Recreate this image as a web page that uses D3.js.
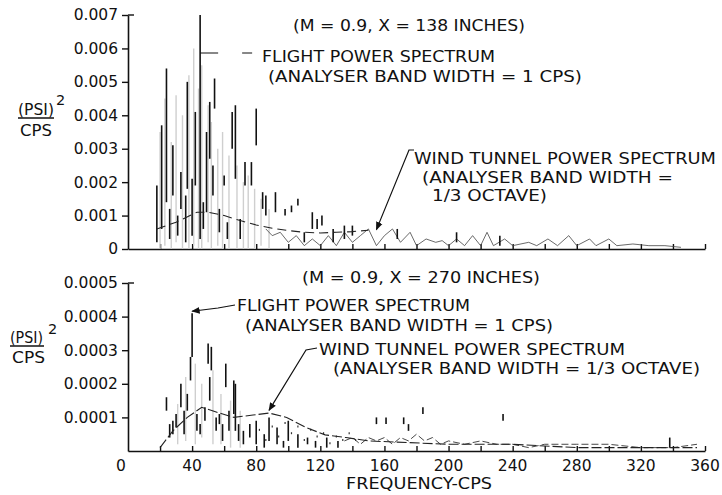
<!DOCTYPE html>
<html>
<head>
<meta charset="utf-8">
<script src="https://cdn.jsdelivr.net/npm/d3@7"></script>
<style>
  body { margin: 0; background: #fff; }
  svg text { font-family: "DejaVu Sans", sans-serif; fill: #111; }
</style>
</head>
<body>
<div id="chart"></div>
<script>
// ---- data ----
const xTicks = d3.range(20, 361, 20);
const xTickLabels = [0, 40, 80, 120, 160, 200, 240, 280, 320, 360];
const topYTicks = [0, 0.001, 0.002, 0.003, 0.004, 0.005, 0.006, 0.007];
const topYLabels = ["0", "0.001", "0.002", "0.003", "0.004", "0.005", "0.006", "0.007"];
const botYTicks = [0.0001, 0.0002, 0.0003, 0.0004, 0.0005];
const botYLabels = ["0.0001", "0.0002", "0.0003", "0.0004", "0.0005"];

// top panel (X = 138 in): flight spectrum spikes [freq, low, high]
const topFlight = [
  [18, 0.0002, 0.0019], [21, 0.0006, 0.0037], [24, 0.0014, 0.0054], [26, 0.0003, 0.0012],
  [28, 0.0016, 0.0031], [31, 0.0004, 0.0010], [33, 0.0012, 0.0023], [36, 0.0002, 0.0016],
  [37, 0.0018, 0.0050], [40, 0.0004, 0.0021], [42, 0.0019, 0.0041], [45, 0.0003, 0.0070],
  [47, 0.0006, 0.0014], [49, 0.0011, 0.0035], [51, 0.0027, 0.0044], [53, 0.0016, 0.0025],
  [54, 0.0042, 0.0051], [57, 0.0005, 0.0012], [60, 0.0019, 0.0022], [62, 0.0003, 0.0008],
  [65, 0.0030, 0.0041], [67, 0.0021, 0.0043], [70, 0.0003, 0.0009], [73, 0.0019, 0.0026],
  [77, 0.0019, 0.0026], [80, 0.0031, 0.0042], [84, 0.0012, 0.0017], [86, 0.0010, 0.0016],
  [92, 0.0011, 0.0017], [98, 0.0010, 0.0012], [102, 0.0011, 0.0013], [106, 0.0013, 0.0015],
  [110, 0.0002, 0.0005], [115, 0.0006, 0.0011], [118, 0.0006, 0.0009], [121, 0.0007, 0.0010],
  [128, 0.0002, 0.0006], [135, 0.0003, 0.0007], [140, 0.0004, 0.0007], [168, 0.0003, 0.0006],
  [205, 0.0002, 0.0005], [232, 0.0001, 0.0004]
];
// faint (grey) part of the same trace
const topFlightFaint = [
  [20, 0.0000, 0.0035], [23, 0.0001, 0.0045], [27, 0.0000, 0.0032], [30, 0.0002, 0.0046],
  [34, 0.0000, 0.0040], [38, 0.0000, 0.0052], [41, 0.0001, 0.0060], [44, 0.0000, 0.0048],
  [46, 0.0000, 0.0055], [50, 0.0002, 0.0043], [52, 0.0000, 0.0038], [56, 0.0001, 0.0030],
  [59, 0.0000, 0.0035], [63, 0.0000, 0.0028], [68, 0.0000, 0.0025], [72, 0.0000, 0.0020],
  [75, 0.0000, 0.0022], [79, 0.0000, 0.0018], [83, 0.0001, 0.0015], [88, 0.0000, 0.0012]
];
// low-level zigzag of the flight trace
const topTrace = [
  [86, 0.0006], [90, 0.0004], [95, 0.0005], [100, 0.0002], [105, 0.0004], [110, 0.0001],
  [115, 0.0003], [120, 0.0001], [125, 0.0004], [130, 0.0001], [135, 0.0005], [140, 0.0002],
  [145, 0.0004], [150, 0.0006], [155, 0.0001], [160, 0.0004], [165, 0.0006], [170, 0.0002],
  [176, 0.0005], [180, 0.0001], [186, 0.0003], [192, 0.0002], [196, 0.00025], [200, 0.0001],
  [205, 0.0003], [210, 0.0001], [215, 0.0004], [220, 0.0001], [224, 0.0005], [228, 0.0001],
  [235, 0.0003], [240, 0.0001], [250, 0.0002], [255, 0.0001], [262, 0.0003], [268, 0.0001],
  [275, 0.0004], [280, 0.0001], [288, 0.0003], [292, 0.0001], [300, 0.0003], [305, 0.0001],
  [315, 0.00015], [325, 0.0001], [335, 0.0001], [345, 0.00005]
];
// wind tunnel spectrum (1/3 octave)
const topWind = [
  [18, 0.0006], [30, 0.0008], [43, 0.0011], [50, 0.0011], [60, 0.0010], [70, 0.00085],
  [80, 0.00072], [90, 0.00062], [100, 0.00055], [110, 0.0005], [120, 0.00048], [130, 0.0005],
  [140, 0.00052], [150, 0.00056]
];

// bottom panel (X = 270 in)
const botFlight = [
  [24, 0.00012, 0.00016], [26, 0.00004, 0.00008], [28, 0.00005, 0.00009], [30, 0.00007, 0.00011],
  [33, 0.00013, 0.00020], [35, 0.00005, 0.00012], [37, 0.00012, 0.00017], [39, 0.00021, 0.00028],
  [40, 0.00028, 0.00041], [43, 0.00006, 0.00011], [45, 0.00005, 0.00008], [48, 0.00009, 0.00013],
  [50, 0.00026, 0.00032], [51, 0.00015, 0.00022], [52, 0.00024, 0.00031], [55, 0.00006, 0.00010],
  [57, 0.00008, 0.00011], [59, 0.00003, 0.00008], [61, 0.00019, 0.00026], [63, 0.00006, 0.00012],
  [66, 0.00011, 0.00021], [67, 0.00006, 0.00020], [69, 0.00003, 0.00008], [72, 0.00002, 0.00006],
  [76, 0.00004, 0.00008], [80, 0.00002, 0.00009], [85, 0.00001, 0.00005], [88, 0.00003, 0.00010],
  [93, 0.00002, 0.00007], [97, 0.00001, 0.00003], [100, 0.00003, 0.00009], [106, 0.00001, 0.00005],
  [112, 0.00002, 0.00004], [117, 0.00001, 0.00003], [124, 0.00001, 0.00004], [131, 0.00001, 0.00003],
  [155, 0.00008, 0.00010], [161, 0.00008, 0.00010], [172, 0.00008, 0.00010], [175, 0.00006, 0.00008],
  [184, 0.00011, 0.00013], [234, 0.00009, 0.00011], [338, 0.00001, 0.00004]
];
const botFlightFaint = [
  [31, 0.00002, 0.00014], [36, 0.00003, 0.00022], [42, 0.00002, 0.00026], [46, 0.00004, 0.00020],
  [53, 0.00002, 0.00024], [58, 0.00002, 0.00017], [64, 0.00001, 0.00015], [70, 0.00001, 0.00012]
];
const botTrace = [
  [135, 0.00003], [140, 0.00004], [145, 0.00002], [150, 0.00004], [155, 0.00003], [160, 0.00004],
  [165, 0.00002], [170, 0.00004], [175, 0.00003], [180, 0.00005], [185, 0.00003], [190, 0.00004],
  [195, 0.00002], [200, 0.00003], [210, 0.00002], [220, 0.00003], [230, 0.00002], [240, 0.00002],
  [250, 0.00001], [260, 0.00002], [280, 0.00002], [300, 0.00002], [320, 0.00001], [340, 0.00001],
  [355, 0.00002]
];
const botDots = [
  [82, 0.00006], [86, 0.00003], [90, 0.00007], [94, 0.00004], [98, 0.00008], [102, 0.00005],
  [106, 0.00007], [110, 0.00003], [114, 0.00006], [118, 0.00004], [122, 0.00005], [126, 0.00002],
  [130, 0.00004], [134, 0.00003], [138, 0.00005], [142, 0.00003]
];
const botWind = [
  [20, 0.00001], [28, 0.00006], [37, 0.00010], [46, 0.00013], [55, 0.000116], [66, 0.00010],
  [78, 0.000107], [88, 0.000113], [99, 0.00010], [111, 0.00007], [123, 0.000048], [136, 0.00004],
  [150, 0.00003], [200, 0.00002], [240, 0.00002], [280, 0.00001], [355, 0.00001]
];

// ---- drawing ----
const width = 722, height = 495;
const svg = d3.select("#chart").append("svg")
  .attr("width", width).attr("height", height);

svg.append("defs").append("marker")
  .attr("id", "arrow").attr("viewBox", "0 0 10 10")
  .attr("refX", 9).attr("refY", 5)
  .attr("markerWidth", 7).attr("markerHeight", 7)
  .attr("orient", "auto")
  .append("path").attr("d", "M0,1 L10,5 L0,9 Z").attr("fill", "#111");

const x = d3.scaleLinear().domain([0, 360]).range([128, 705]);
const yTop = d3.scaleLinear().domain([0, 0.007]).range([249, 15]);
const yBot = d3.scaleLinear().domain([0, 0.0005]).range([451, 283]);

function label(t, px, py, w, size) {
  svg.append("text")
    .attr("x", px).attr("y", py)
    .attr("font-size", size || 15.5)
    .attr("textLength", w).attr("lengthAdjust", "spacingAndGlyphs")
    .text(t);
}

function panel(y, yTicks, yLabels, xLabels) {
  // y axis
  const gy = svg.append("g")
    .attr("transform", `translate(${x(0)},0)`)
    .call(d3.axisLeft(y).tickValues(yTicks).tickSize(6).tickSizeOuter(0)
      .tickFormat((d, i) => yLabels[i]));
  gy.selectAll("text").attr("font-size", 15.5).attr("dx", "-1");
  // little serif at top of the axis
  svg.append("line")
    .attr("x1", x(0)).attr("x2", x(0) + 6)
    .attr("y1", y.range()[1]).attr("y2", y.range()[1])
    .attr("stroke", "#111").attr("stroke-width", 1.4);

  // x axis, ticks pointing up
  const gx = svg.append("g")
    .attr("transform", `translate(0,${y(0)})`)
    .call(d3.axisBottom(x).tickValues(xTicks).tickSize(-5).tickSizeOuter(0)
      .tickFormat(""));
  [gx, gy].forEach(g => {
    g.select(".domain").attr("stroke", "#111").attr("stroke-width", 1.6);
    g.selectAll(".tick line").attr("stroke", "#111").attr("stroke-width", 1.4);
  });
  if (xLabels) {
    svg.append("g").selectAll("text").data(xLabels).join("text")
      .attr("x", d => x(d) - (d === 0 ? 7 : 0))
      .attr("y", y(0) + 20)
      .attr("text-anchor", "middle")
      .attr("font-size", 15.5)
      .text(d => d);
  }
}

function spikes(data, y, color, w) {
  svg.append("g").selectAll("line").data(data).join("line")
    .attr("x1", d => x(d[0])).attr("x2", d => x(d[0]))
    .attr("y1", d => y(d[1])).attr("y2", d => y(d[2]))
    .attr("stroke", color).attr("stroke-width", w);
}

function trace(data, y, color, w, dash) {
  svg.append("path").datum(data)
    .attr("fill", "none").attr("stroke", color).attr("stroke-width", w)
    .attr("stroke-dasharray", dash || null)
    .attr("d", d3.line().x(d => x(d[0])).y(d => y(d[1])));
}

// ===== top panel =====
panel(yTop, topYTicks, topYLabels, null);
spikes(topFlightFaint, yTop, "#cfcfcf", 1.4);
trace(topTrace, yTop, "#444", 0.8);
spikes(topFlight, yTop, "#111", 1.6);
trace(topWind, yTop, "#222", 1.1, "9,5");

label("(M = 0.9, X = 138 INCHES)", 293, 31, 232);
label("FLIGHT POWER SPECTRUM", 262, 62, 233);
label("(ANALYSER BAND WIDTH = 1 CPS)", 268, 82, 314);
label("WIND TUNNEL POWER SPECTRUM", 414, 164, 302);
label("(ANALYSER BAND WIDTH =", 422, 183, 251);
label("1/3 OCTAVE)", 432, 201, 115);

// flight leader (broken line)
svg.append("line")
  .attr("x1", x(45)).attr("x2", 254).attr("y1", 53).attr("y2", 53)
  .attr("stroke", "#111").attr("stroke-width", 1.2)
  .attr("stroke-dasharray", "18,24,10");
// wind tunnel leader
svg.append("path")
  .attr("d", `M414,150 L409,150 L${x(155)},${yTop(0.00058)}`)
  .attr("fill", "none").attr("stroke", "#111").attr("stroke-width", 1.2)
  .attr("marker-end", "url(#arrow)");

// y label
label("(PSI)", 18, 115, 36);
svg.append("line").attr("x1", 18).attr("x2", 54).attr("y1", 118).attr("y2", 118)
  .attr("stroke", "#111").attr("stroke-width", 1.3);
svg.append("text").attr("x", 56).attr("y", 105).attr("font-size", 14.5).text("2");
label("CPS", 20, 136, 32);

// ===== bottom panel =====
panel(yBot, botYTicks, botYLabels, xTickLabels);
spikes(botFlightFaint, yBot, "#cfcfcf", 1.4);
trace(botTrace, yBot, "#333", 0.9, "7,3");
spikes(botFlight, yBot, "#111", 1.6);
svg.append("g").selectAll("line").data(botDots).join("line")
  .attr("x1", d => x(d[0])).attr("x2", d => x(d[0]))
  .attr("y1", d => yBot(d[1])).attr("y2", d => yBot(d[1]) - 2)
  .attr("stroke", "#333").attr("stroke-width", 1.2);
trace(botWind, yBot, "#222", 1.1, "10,3");

label("(M = 0.9, X = 270 INCHES)", 302, 283, 238);
label("FLIGHT POWER SPECTRUM", 237, 311, 233);
label("(ANALYSER BAND WIDTH = 1 CPS)", 245, 331, 308);
label("WIND TUNNEL POWER SPECTRUM", 319, 355, 306);
label("(ANALYSER BAND WIDTH = 1/3 OCTAVE)", 333, 374, 367);

svg.append("path")
  .attr("d", `M235,305 L218,308 L${x(40)},${yBot(0.00041) - 2}`)
  .attr("fill", "none").attr("stroke", "#111").attr("stroke-width", 1.2)
  .attr("marker-end", "url(#arrow)");
svg.append("path")
  .attr("d", `M317,348 L306,350 L${x(88)},${yBot(0.000115) - 2}`)
  .attr("fill", "none").attr("stroke", "#111").attr("stroke-width", 1.2)
  .attr("marker-end", "url(#arrow)");

label("(PSI)", 10, 343, 33);
svg.append("line").attr("x1", 10).attr("x2", 44).attr("y1", 346).attr("y2", 346)
  .attr("stroke", "#111").attr("stroke-width", 1.3);
svg.append("text").attr("x", 48).attr("y", 334).attr("font-size", 14.5).text("2");
label("CPS", 12, 363, 33);

label("FREQUENCY-CPS", 346, 489, 146, 15);
</script>
</body>
</html>
